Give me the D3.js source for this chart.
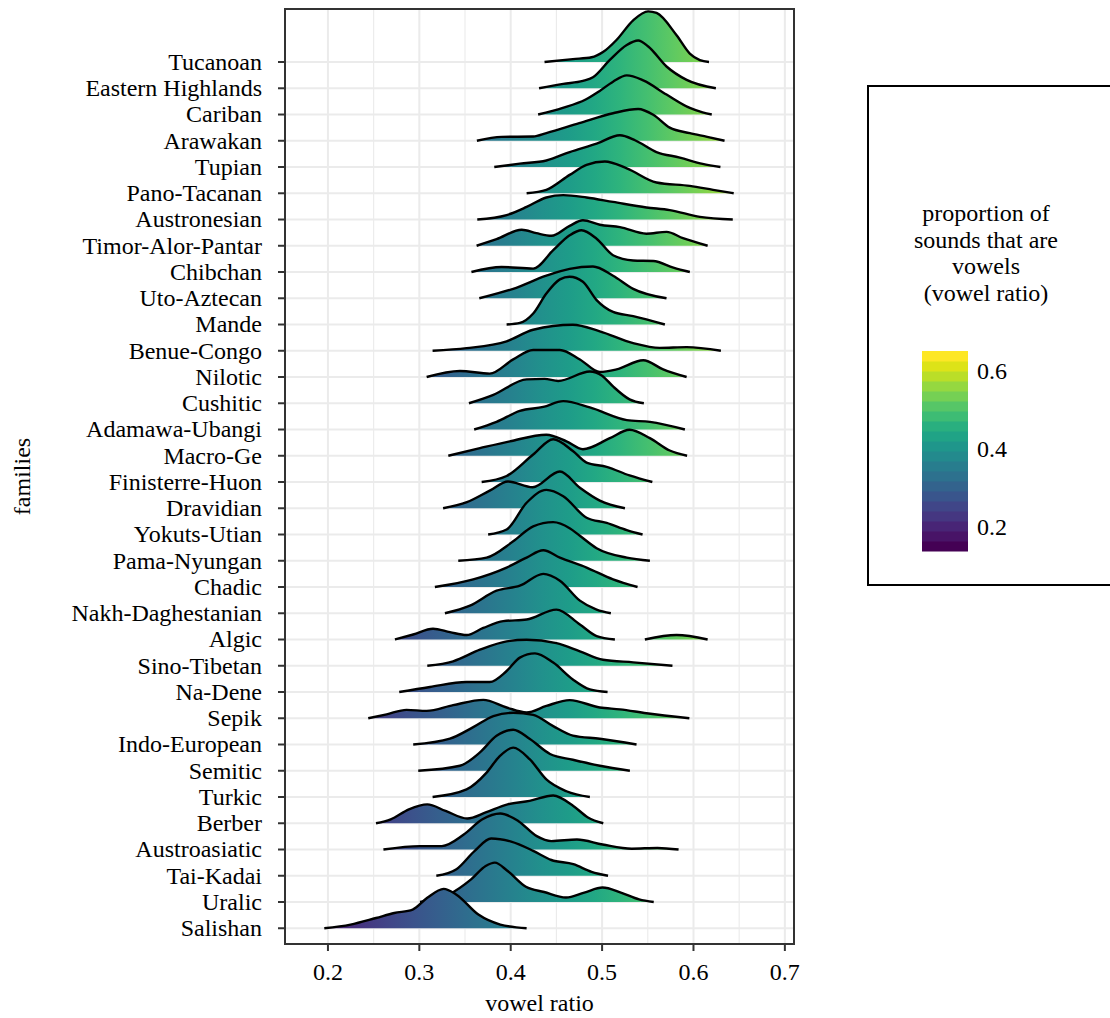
<!DOCTYPE html>
<html>
<head>
<meta charset="utf-8">
<script src="https://cdn.jsdelivr.net/npm/d3@7"></script>
<style>
  body { margin: 0; background: #fff; }
  text { font-family: "Liberation Serif", "Times New Roman", serif; fill: #000; }
</style>
</head>
<body>
<div id="chart"></div>
<script>
// families, top to bottom as shown on the y axis
const families = ["Tucanoan", "Eastern Highlands", "Cariban", "Arawakan", "Tupian", "Pano-Tacanan",
  "Austronesian", "Timor-Alor-Pantar", "Chibchan", "Uto-Aztecan", "Mande", "Benue-Congo", "Nilotic",
  "Cushitic", "Adamawa-Ubangi", "Macro-Ge", "Finisterre-Huon", "Dravidian", "Yokuts-Utian",
  "Pama-Nyungan", "Chadic", "Nakh-Daghestanian", "Algic", "Sino-Tibetan", "Na-Dene", "Sepik",
  "Indo-European", "Semitic", "Turkic", "Berber", "Austroasiatic", "Tai-Kadai", "Uralic", "Salishan"];

// density profile of each family: [vowel ratio, ridge height in rows]; null = gap
const ridgeValues = [
  [[0.437,0],[0.468,0.11],[0.4885,0.18],[0.501,0.38],[0.516,0.85],[0.534,1.59],[0.5505,1.93],[0.5596,1.87],[0.5815,1.02],[0.596,0.32],[0.607,0.07],[0.617,0]],
  [[0.431,0],[0.4575,0.17],[0.479,0.28],[0.490,0.42],[0.5085,1.08],[0.527,1.65],[0.5395,1.82],[0.5505,1.59],[0.5705,0.83],[0.5925,0.32],[0.6245,0]],
  [[0.430,0],[0.457,0.25],[0.482,0.57],[0.497,0.89],[0.512,1.25],[0.527,1.49],[0.545,1.30],[0.5705,0.76],[0.596,0.25],[0.610,0.08],[0.620,0]],
  [[0.363,0],[0.390,0.15],[0.4246,0.16],[0.439,0.29],[0.475,0.67],[0.512,1.05],[0.5395,1.21],[0.556,0.99],[0.574,0.50],[0.596,0.29],[0.615,0.15],[0.634,0]],
  [[0.382,0],[0.410,0.13],[0.439,0.25],[0.4645,0.57],[0.494,0.89],[0.5195,1.21],[0.536,1.02],[0.5595,0.57],[0.585,0.36],[0.610,0.12],[0.6295,0]],
  [[0.4174,0],[0.439,0.13],[0.4645,0.70],[0.483,1.08],[0.503,1.21],[0.527,0.95],[0.5595,0.41],[0.596,0.28],[0.6215,0.13],[0.644,0]],
  [[0.3634,0],[0.3955,0.17],[0.4174,0.48],[0.439,0.84],[0.4575,0.93],[0.483,0.84],[0.512,0.67],[0.5485,0.46],[0.574,0.36],[0.607,0.10],[0.643,0]],
  [[0.3627,0],[0.3845,0.25],[0.412,0.61],[0.428,0.48],[0.4445,0.38],[0.4645,0.76],[0.479,0.97],[0.4975,0.80],[0.5195,0.71],[0.5485,0.46],[0.5705,0.53],[0.5885,0.29],[0.6155,0]],
  [[0.357,0],[0.390,0.19],[0.4246,0.13],[0.4465,0.83],[0.4645,1.40],[0.4775,1.59],[0.494,1.27],[0.512,0.64],[0.534,0.44],[0.556,0.42],[0.578,0.17],[0.596,0]],
  [[0.3656,0],[0.4027,0.36],[0.439,0.86],[0.4645,1.12],[0.490,1.21],[0.512,0.86],[0.534,0.36],[0.5705,0]],
  [[0.3955,0],[0.410,0.06],[0.4246,0.42],[0.439,1.18],[0.4538,1.72],[0.4645,1.82],[0.479,1.63],[0.494,0.93],[0.512,0.48],[0.534,0.32],[0.5687,0]],
  [[0.3145,0],[0.3517,0.10],[0.3955,0.36],[0.4246,0.80],[0.468,0.99],[0.4975,0.74],[0.534,0.29],[0.563,0.11],[0.5925,0.14],[0.630,0]],
  [[0.308,0],[0.3444,0.23],[0.377,0.13],[0.4027,0.67],[0.4246,1.03],[0.4538,1.03],[0.4757,0.67],[0.4975,0.19],[0.5158,0.29],[0.545,0.64],[0.5668,0.29],[0.5925,0]],
  [[0.3543,0],[0.381,0.32],[0.4174,0.91],[0.437,0.93],[0.452,0.85],[0.4866,1.21],[0.500,1.05],[0.512,0.64],[0.530,0.15],[0.5457,0]],
  [[0.360,0],[0.3845,0.29],[0.410,0.71],[0.4356,0.86],[0.4575,1.08],[0.4866,0.84],[0.527,0.36],[0.5523,0.29],[0.5906,0]],
  [[0.3317,0],[0.3663,0.29],[0.399,0.55],[0.439,0.80],[0.461,0.55],[0.479,0.25],[0.5085,0.67],[0.530,0.99],[0.5523,0.67],[0.574,0.20],[0.593,0]],
  [[0.3682,0],[0.3955,0.23],[0.4246,1.05],[0.4465,1.63],[0.468,1.18],[0.483,0.74],[0.505,0.58],[0.530,0.25],[0.555,0]],
  [[0.326,0],[0.352,0.23],[0.377,0.67],[0.397,1.02],[0.424,0.80],[0.4538,1.40],[0.4757,0.78],[0.4975,0.29],[0.525,0]],
  [[0.3753,0],[0.3955,0.19],[0.4174,1.21],[0.439,1.70],[0.4575,1.46],[0.483,0.64],[0.505,0.44],[0.527,0.17],[0.5443,0]],
  [[0.3426,0],[0.3736,0.12],[0.4027,0.74],[0.4246,1.31],[0.4465,1.47],[0.4645,1.24],[0.4757,0.95],[0.494,0.48],[0.527,0.12],[0.5523,0]],
  [[0.317,0],[0.359,0.29],[0.3955,0.74],[0.4174,1.12],[0.4356,1.40],[0.4538,1.12],[0.483,0.74],[0.512,0.29],[0.5388,0]],
  [[0.328,0],[0.3554,0.29],[0.3845,0.86],[0.410,1.05],[0.4356,1.50],[0.4538,1.24],[0.4757,0.48],[0.494,0.14],[0.5096,0]],
  [[0.2733,0],[0.2933,0.19],[0.315,0.41],[0.3335,0.28],[0.3517,0.17],[0.370,0.44],[0.3918,0.70],[0.4174,0.76],[0.450,1.14],[0.4757,0.57],[0.494,0.13],[0.514,0],
   null,[0.5468,0],[0.5815,0.17],[0.6155,0]],
  [[0.3087,0],[0.337,0.17],[0.3663,0.61],[0.3955,0.93],[0.4174,0.99],[0.450,0.86],[0.4757,0.55],[0.501,0.23],[0.534,0.13],[0.577,0]],
  [[0.278,0],[0.3116,0.19],[0.3517,0.38],[0.377,0.38],[0.3955,0.80],[0.410,1.31],[0.4265,1.47],[0.4465,1.12],[0.468,0.48],[0.4866,0.10],[0.506,0]],
  [[0.2441,0],[0.2642,0.15],[0.286,0.32],[0.308,0.28],[0.337,0.50],[0.370,0.70],[0.3955,0.41],[0.4174,0.22],[0.439,0.47],[0.4645,0.69],[0.4975,0.41],[0.5195,0.34],[0.5485,0.19],[0.5955,0]],
  [[0.2933,0],[0.3335,0.22],[0.359,0.66],[0.381,1.08],[0.4027,1.21],[0.4246,1.13],[0.4465,0.70],[0.468,0.34],[0.4975,0.22],[0.5377,0]],
  [[0.2988,0],[0.3444,0.19],[0.3663,0.70],[0.3845,1.33],[0.4027,1.56],[0.421,1.21],[0.443,0.64],[0.468,0.42],[0.4975,0.19],[0.5304,0]],
  [[0.3145,0],[0.3517,0.29],[0.3736,0.93],[0.388,1.56],[0.4027,1.88],[0.421,1.43],[0.439,0.67],[0.461,0.22],[0.4866,0]],
  [[0.2526,0],[0.2687,0.15],[0.2886,0.53],[0.3087,0.72],[0.3287,0.47],[0.3526,0.18],[0.3726,0.41],[0.3966,0.72],[0.4206,0.85],[0.4465,1.06],[0.4685,0.66],[0.4845,0.22],[0.5013,0]],
  [[0.2607,0],[0.3007,0.13],[0.3246,0.13],[0.3486,0.57],[0.3686,1.14],[0.3886,1.37],[0.4085,1.08],[0.4285,0.51],[0.4445,0.32],[0.4725,0.38],[0.5005,0.19],[0.5325,0.03],[0.5605,0.06],[0.5837,0]],
  [[0.3186,0],[0.3406,0.25],[0.3606,0.95],[0.3786,1.42],[0.4005,1.30],[0.4246,0.95],[0.4445,0.60],[0.4685,0.44],[0.4885,0.15],[0.5065,0]],
  [[0.3007,0],[0.3326,0.29],[0.3566,0.86],[0.3726,1.37],[0.3826,1.50],[0.3966,1.18],[0.4166,0.58],[0.4365,0.38],[0.4605,0.17],[0.4805,0.36],[0.5005,0.55],[0.5205,0.36],[0.5405,0.10],[0.5565,0]],
  [[0.196,0],[0.2247,0.14],[0.2526,0.39],[0.2726,0.58],[0.2927,0.71],[0.3087,1.16],[0.3266,1.50],[0.3406,1.28],[0.3646,0.52],[0.3886,0.14],[0.4174,0]]
];

const xTicks = [0.2, 0.3, 0.4, 0.5, 0.6, 0.7];
const xMinor = [0.25, 0.35, 0.45, 0.55, 0.65];
const legendTicks = [0.2, 0.4, 0.6];
const legendTitle = ["proportion of", "sounds that are", "vowels", "(vowel ratio)"];

const width = 1110, height = 1018;
const panel = { left: 285, right: 794, top: 9, bottom: 944 };
const fontSize = 24;

const svg = d3.select("#chart").append("svg")
  .attr("width", width)
  .attr("height", height);

const x = d3.scaleLinear().domain([0.153, 0.71]).range([panel.left, panel.right]);
// rows counted from the bottom: Salishan = 1, Tucanoan = 34
const y = d3.scaleLinear().domain([0.4, 36.02]).range([panel.bottom, panel.top]);
const rowOf = i => families.length - i;

// viridis fill along x
const defs = svg.append("defs");
const grad = defs.append("linearGradient")
  .attr("id", "vir")
  .attr("gradientUnits", "userSpaceOnUse")
  .attr("x1", x(0.15)).attr("x2", x(0.72))
  .attr("y1", 0).attr("y2", 0);
d3.range(0, 1.0001, 0.05).forEach(t => {
  grad.append("stop").attr("offset", t).attr("stop-color", d3.interpolateViridis(t));
});
defs.append("clipPath").attr("id", "clip").append("rect")
  .attr("x", panel.left).attr("y", panel.top)
  .attr("width", panel.right - panel.left).attr("height", panel.bottom - panel.top);

// grid
const grid = svg.append("g");
grid.selectAll(".minor").data(xMinor).enter().append("line")
  .attr("x1", d => x(d)).attr("x2", d => x(d))
  .attr("y1", panel.top).attr("y2", panel.bottom)
  .style("stroke", "#ebebeb").style("stroke-width", 1.1);
grid.selectAll(".major").data(xTicks).enter().append("line")
  .attr("x1", d => x(d)).attr("x2", d => x(d))
  .attr("y1", panel.top).attr("y2", panel.bottom)
  .style("stroke", "#ebebeb").style("stroke-width", 2);
grid.selectAll(".hline").data(families).enter().append("line")
  .attr("x1", panel.left).attr("x2", panel.right)
  .attr("y1", (d, i) => y(rowOf(i))).attr("y2", (d, i) => y(rowOf(i)))
  .style("stroke", "#ebebeb").style("stroke-width", 2);

// ridges, drawn from the top so lower ridges overlap upper ones
const ridges = svg.append("g").attr("clip-path", "url(#clip)");
families.forEach((fam, i) => {
  const row = rowOf(i);
  const area = d3.area()
    .defined(d => d !== null)
    .x(d => x(d[0]))
    .y0(y(row))
    .y1(d => y(row + d[1]))
    .curve(d3.curveMonotoneX);
  const line = d3.line()
    .defined(d => d !== null)
    .x(d => x(d[0]))
    .y(d => y(row + d[1]))
    .curve(d3.curveMonotoneX);
  ridges.append("path")
    .datum(ridgeValues[i])
    .attr("d", area)
    .style("fill", "url(#vir)");
  ridges.append("path")
    .datum(ridgeValues[i])
    .attr("d", line)
    .style("fill", "none")
    .style("stroke", "#000")
    .style("stroke-width", 2.4)
    .style("stroke-linejoin", "round")
    .style("stroke-linecap", "butt");
});

// panel border
svg.append("rect")
  .attr("x", panel.left).attr("y", panel.top)
  .attr("width", panel.right - panel.left).attr("height", panel.bottom - panel.top)
  .style("fill", "none").style("stroke", "#333").style("stroke-width", 2);

// y axis ticks and labels
const yAxis = svg.append("g");
yAxis.selectAll("line").data(families).enter().append("line")
  .attr("x1", panel.left - 7).attr("x2", panel.left)
  .attr("y1", (d, i) => y(rowOf(i))).attr("y2", (d, i) => y(rowOf(i)))
  .style("stroke", "#333").style("stroke-width", 2);
yAxis.selectAll("text").data(families).enter().append("text")
  .attr("x", panel.left - 23)
  .attr("y", (d, i) => y(rowOf(i)))
  .attr("dy", "0.33em")
  .style("text-anchor", "end")
  .style("font-size", fontSize + "px")
  .text(d => d);

// x axis ticks and labels
const xAxis = svg.append("g");
xAxis.selectAll("line").data(xTicks).enter().append("line")
  .attr("x1", d => x(d)).attr("x2", d => x(d))
  .attr("y1", panel.bottom).attr("y2", panel.bottom + 7)
  .style("stroke", "#333").style("stroke-width", 2);
xAxis.selectAll("text").data(xTicks).enter().append("text")
  .attr("x", d => x(d))
  .attr("y", 972)
  .attr("dy", "0.33em")
  .style("text-anchor", "middle")
  .style("font-size", fontSize + "px")
  .text(d => d3.format(".1f")(d));

svg.append("text")
  .attr("x", (panel.left + panel.right) / 2)
  .attr("y", 1003)
  .attr("dy", "0.33em")
  .style("text-anchor", "middle")
  .style("font-size", fontSize + "px")
  .text("vowel ratio");

svg.append("text")
  .attr("transform", `translate(22,${(panel.top + panel.bottom) / 2}) rotate(-90)`)
  .attr("dy", "0.33em")
  .style("text-anchor", "middle")
  .style("font-size", fontSize + "px")
  .text("families");

// legend
const legend = svg.append("g");
legend.append("rect")
  .attr("x", 868).attr("y", 86)
  .attr("width", 260).attr("height", 499)
  .style("fill", "#fff").style("stroke", "#000").style("stroke-width", 2);

legend.selectAll(".title").data(legendTitle).enter().append("text")
  .attr("x", 986)
  .attr("y", (d, i) => 213 + i * 26.6)
  .attr("dy", "0.33em")
  .style("text-anchor", "middle")
  .style("font-size", fontSize + "px")
  .text(d => d);

const legY = d3.scaleLinear().domain([0.138, 0.651]).range([551, 351]);
const nBins = 20;
const binH = 200 / nBins;
legend.selectAll(".bin").data(d3.range(nBins)).enter().append("rect")
  .attr("x", 922).attr("width", 46)
  .attr("y", d => 551 - (d + 1) * binH)
  .attr("height", binH + 0.5)
  .style("fill", d => d3.interpolateViridis(d / (nBins - 1)));

legend.selectAll(".ltick").data(legendTicks).enter().append("text")
  .attr("x", 977)
  .attr("y", d => legY(d))
  .attr("dy", "0.33em")
  .style("font-size", fontSize + "px")
  .text(d => d3.format(".1f")(d));
</script>
</body>
</html>
